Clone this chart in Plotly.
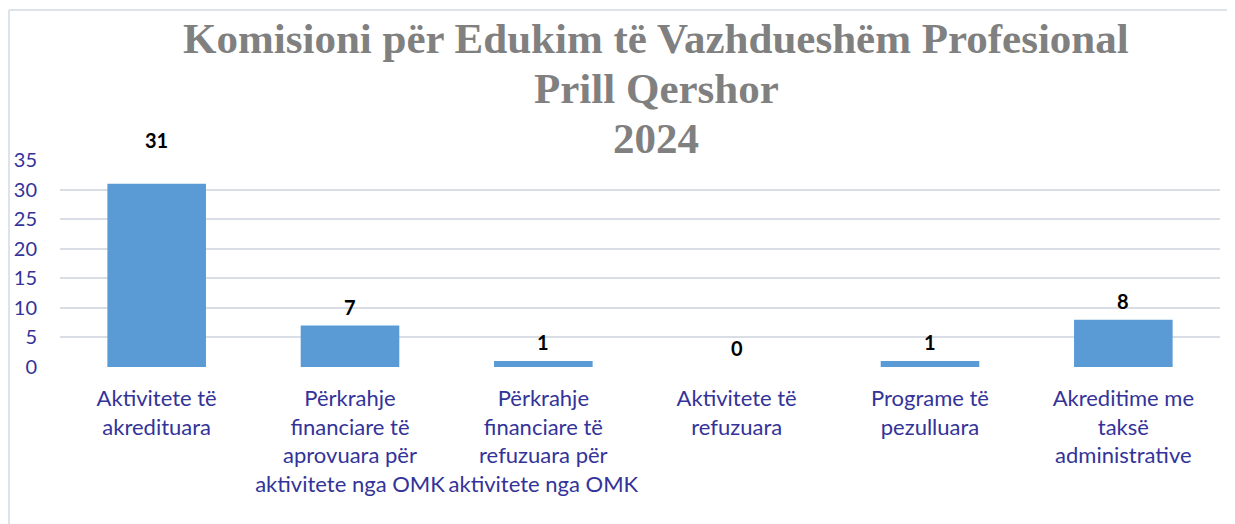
import plotly.graph_objects as go

categories = [
    "Aktivitete të<br>akredituara",
    "Përkrahje<br>financiare të<br>aprovuara për<br>aktivitete nga OMK",
    "Përkrahje<br>financiare të<br>refuzuara për<br>aktivitete nga OMK",
    "Aktivitete të<br>refuzuara",
    "Programe të<br>pezulluara",
    "Akreditime me<br>taksë<br>administrative",
]
values = [31, 7, 1, 0, 1, 8]
y_ticks = [0, 5, 10, 15, 20, 25, 30, 35]
title_lines = ["Komisioni për Edukim të Vazhdueshëm Profesional", "Prill Qershor", "2024"]

# page has an 8px body margin; figure is sized to fit the window
W, H = 1227, 516
L, R, T, B = 52, 15, 152, 157
pw = W - L - R
ph = H - T - B


def px_x(p):
    return (p - L) / pw


def px_y(p):
    return (H - B - p) / ph


fig = go.Figure()
fig.add_trace(go.Bar(
    x=list(range(len(categories))),
    y=values,
    marker=dict(color="#5B9BD5", line=dict(width=0)),
    width=0.51,
    hoverinfo="skip",
))

# data labels
for i, v in enumerate(values):
    fig.add_annotation(
        x=i, y=v, xref="x", yref="y",
        text=f"<b>{v}</b>", showarrow=False,
        yanchor="bottom", yshift=(30 if i == 0 else 5),
        font=dict(family="Lato", size=20, color="#000000"),
    )

# title, one annotation per line
title_centers = [30, 80, 130]
for line, yc in zip(title_lines, title_centers):
    fig.add_annotation(
        x=px_x(648), y=px_y(yc), xref="paper", yref="paper",
        text=f"<b>{line}</b>", showarrow=False,
        xanchor="center", yanchor="middle",
        font=dict(family="Liberation Serif", size=43, color="#808080"),
    )

# outer frame (left and top edges visible)
frame = dict(color="#dde3eb", width=2)
fig.add_shape(type="line", xref="paper", yref="paper",
              x0=px_x(1), x1=px_x(W), y0=px_y(2), y1=px_y(2), line=frame, layer="below")
fig.add_shape(type="line", xref="paper", yref="paper",
              x0=px_x(1), x1=px_x(1), y0=px_y(2), y1=px_y(H), line=frame, layer="below")

fig.update_layout(
    width=W, height=H,
    margin=dict(l=L, r=R, t=T, b=B, autoexpand=False),
    paper_bgcolor="white", plot_bgcolor="white",
    showlegend=False,
    xaxis=dict(
        tickmode="array", tickvals=list(range(len(categories))), ticktext=categories,
        range=[-0.5, len(categories) - 0.5],
        showgrid=False, zeroline=False, showline=False, ticks="",
        tickfont=dict(family="Lato", size=22, color="#333399"),
        ticklabelstandoff=16,
    ),
    yaxis=dict(
        range=[0, 35], tickvals=y_ticks,
        showgrid=True, gridcolor="#d9dee6", gridwidth=2,
        zeroline=False, showline=False, ticks="",
        tickfont=dict(family="Lato", size=20, color="#333399"),
        ticklabelstandoff=22,
    ),
)

fig.write_html("out.html")
